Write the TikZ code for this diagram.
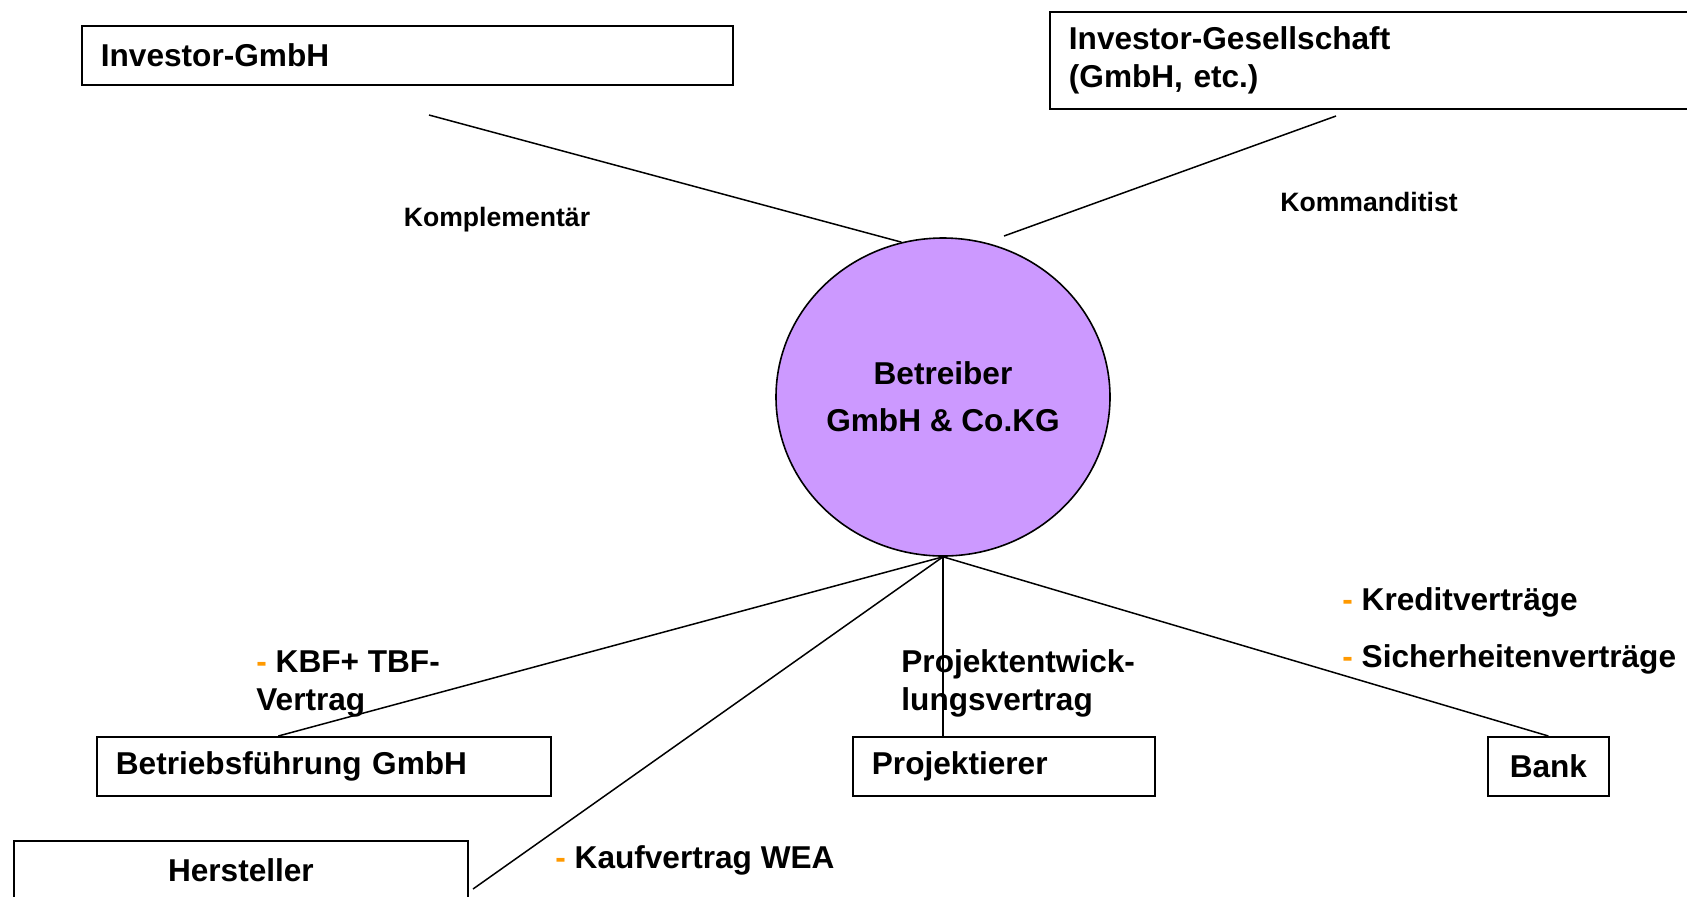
\documentclass[tikz,border=0pt]{standalone}
\usepackage{fontspec}
\setmainfont{Liberation Sans}
\usetikzlibrary{shapes.geometric,calc}
\definecolor{kgviolet}{HTML}{CC99FF}
\definecolor{bulletorange}{HTML}{FF9900}
\newcommand{\dashitem}{{\color{bulletorange}-}\ }

\begin{document}
\begin{tikzpicture}[x=0.5pt,y=-0.5pt,
  every node/.style={font=\bfseries\fontsize{15.8pt}{19pt}\selectfont},
  party/.style={draw,line width=0.9pt,rectangle,anchor=north west,
    minimum height=29.5pt,inner xsep=9.5pt,inner ysep=0pt,align=left},
  link/.style={line width=0.75pt},
  role/.style={font=\bfseries\fontsize{13.3pt}{16pt}\selectfont,inner sep=0pt},
  contract/.style={inner sep=0pt,anchor=west,align=left}]

\useasboundingbox (0,0) rectangle (1687,896);
\clip (0,0) rectangle (1687,896);

% partner companies
\node[party,text width=306.5pt] (invg) at (81,25) {Investor-GmbH};
\node[party,text width=331pt,minimum height=48.5pt] (invk) at (1049,11)
  {Investor-Gesellschaft\\(GmbH, etc.)};
\node[party,text width=208pt] (bf) at (96,736) {Betriebsführung GmbH};
\node[party,text width=132pt] (proj) at (852,736) {Projektierer};
\node[party,text width=41.5pt,align=center] (bank) at (1487,736) {Bank};
\node[party,text width=208pt,align=center] (herst) at (13,840) {Hersteller};

% roles of the shareholders
\node[role] (komp) at (497,220) {Komplementär};
\node[role] (komm) at (1369,202) {Kommanditist};

% contracts
\node[contract] (kbf) at (256,684) {\dashitem KBF+ TBF-\\Vertrag};
\node[contract] (pev) at (901,683) {Projektentwick-\\lungsvertrag};
\node[contract] (kredit) at (1342,602) {\dashitem Kreditverträge};
\node[contract] (sicher) at (1342,659) {\dashitem Sicherheitenverträge};
\node[contract] (kauf) at (555,860) {\dashitem Kaufvertrag WEA};

% connector end points
\coordinate (invgfoot) at (429,115);
\coordinate (invkfoot) at (1336,116);
\coordinate (kgtopright) at (1004,236);
\coordinate (herstend) at (473,889);

% operating company
\node[ellipse,draw,line width=0.8pt,fill=kgviolet,minimum width=167pt,
  minimum height=159pt,inner sep=0pt,align=center,
  font=\bfseries\fontsize{15.8pt}{23.5pt}\selectfont] (kg) at (943,397)
  {Betreiber\\GmbH \& Co.KG};

% relations
\draw[link] (invgfoot) -- (kg.105);
\draw[link] (invkfoot) -- (kgtopright);
\draw[link] (kg.south) -- ($(bf.north west)!0.4!(bf.north east)$);
\draw[link] (kg.south) -- (herstend);
\draw[link] (kg.south) -- (proj.north -| kg.south);
\draw[link] (kg.south) -- (bank.north);
\end{tikzpicture}
\end{document}
